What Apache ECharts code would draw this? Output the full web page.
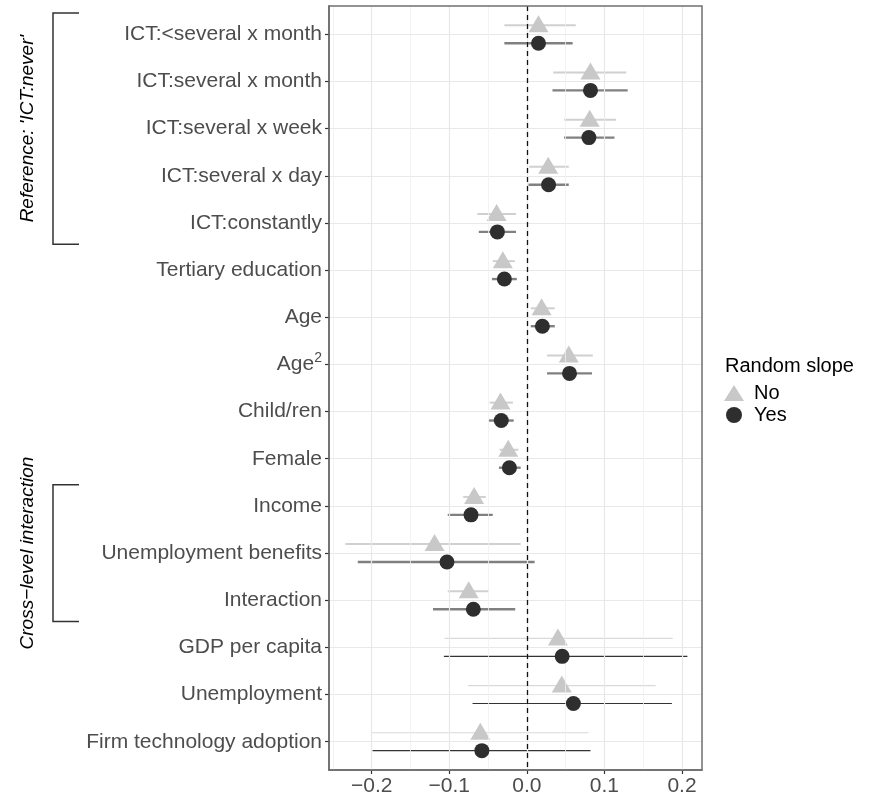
<!DOCTYPE html>
<html><head><meta charset="utf-8">
<script src="https://cdn.jsdelivr.net/npm/echarts@6/dist/echarts.min.js"></script>
<style>html,body{margin:0;padding:0;background:#fff}#c{width:872px;height:797px}</style>
</head><body><div id="c"></div>
<script>
// ---- data ----
const categories = [
  'ICT:<several x month', 'ICT:several x month', 'ICT:several x week', 'ICT:several x day',
  'ICT:constantly', 'Tertiary education', 'Age', 'Age²', 'Child/ren', 'Female',
  'Income', 'Unemployment benefits', 'Interaction', 'GDP per capita', 'Unemployment',
  'Firm technology adoption'
];
// Random slope: No
const noEst = [0.015, 0.082, 0.081, 0.0275, -0.039, -0.031, 0.019, 0.054, -0.034, -0.024, -0.068, -0.119, -0.075, 0.040, 0.045, -0.060];
const noLo  = [-0.029, 0.034, 0.048, 0.003, -0.064, -0.044, 0.005, 0.026, -0.048, -0.035, -0.082, -0.234, -0.102, -0.106, -0.076, -0.200];
const noHi  = [0.063, 0.128, 0.115, 0.054, -0.014, -0.0155, 0.036, 0.085, -0.018, -0.011, -0.053, -0.008, -0.049, 0.188, 0.166, 0.0795];
// Random slope: Yes
const yesEst = [0.015, 0.082, 0.080, 0.028, -0.038, -0.029, 0.020, 0.055, -0.033, -0.0225, -0.072, -0.103, -0.069, 0.0455, 0.060, -0.058];
const yesLo  = [-0.029, 0.033, 0.048, 0.002, -0.062, -0.045, 0.005, 0.026, -0.049, -0.036, -0.102, -0.218, -0.121, -0.107, -0.070, -0.199];
const yesHi  = [0.059, 0.130, 0.113, 0.054, -0.014, -0.013, 0.036, 0.084, -0.017, -0.008, -0.044, 0.010, -0.015, 0.207, 0.187, 0.082];
const xTicks = [-0.2, -0.1, 0.0, 0.1, 0.2];
const xMinorTicks = [-0.25, -0.15, -0.05, 0.05, 0.15];
const seriesNames = ['No', 'Yes'];
const legendTitle = 'Random slope';
const groups = [
  { label: "Reference: 'ICT:never'", from: 0, to: 4 },
  { label: 'Cross\u2212level interaction', from: 10, to: 12 }
];

// ---- chart ----
const FONT = '"Liberation Sans", Arial, sans-serif';
const yIdx = categories.map((_, i) => i);
const DODGE = 0.19;
const countryLevel = i => i >= 13;

function ciSeries(name, lo, hi, off, styleFn) {
  return {
    type: 'custom', name: name, silent: true, z: 3,
    data: lo.map((l, i) => [l, hi[i], i]),
    encode: { x: [0, 1], y: 2 },
    renderItem: function (params, api) {
      const i = api.value(2);
      const p1 = api.coord([api.value(0), i + off]);
      const p2 = api.coord([api.value(1), i + off]);
      const s = styleFn(i);
      return { type: 'line', shape: { x1: p1[0], y1: p1[1], x2: p2[0], y2: p2[1] },
        style: { stroke: s.color, lineWidth: s.width } };
    }
  };
}

const chart = echarts.init(document.getElementById('c'), null, { renderer: 'canvas' });
const option = {
  animation: false,
  backgroundColor: '#fff',
  textStyle: { fontFamily: FONT },
  grid: { left: 329, right: 170, top: 6, bottom: 25, show: true, borderColor: '#707070', borderWidth: 1.5, backgroundColor: 'transparent', z: 6 },
  title: { text: legendTitle, left: 725, top: 356, padding: 0, textStyle: { fontFamily: FONT, fontSize: 20, fontWeight: 'normal', color: '#000' } },
  legend: {
    data: seriesNames, orient: 'vertical', left: 724, top: 383, padding: 0, itemWidth: 20, itemHeight: 16, itemGap: 2,
    selectedMode: false,
    textStyle: { fontFamily: FONT, fontSize: 20, color: '#000', lineHeight: 20, padding: [0, 0, 0, 5] }
  },
  xAxis: {
    type: 'value', min: -0.2551, max: 0.2258,
    axisLine: { show: true, onZero: false, lineStyle: { color: '#555', width: 1.5 } },
    axisTick: { show: true, customValues: xTicks, length: 4, lineStyle: { color: '#333', width: 1.2 } },
    axisLabel: { customValues: xTicks, fontFamily: FONT, fontSize: 21, color: '#4d4d4d', margin: 6,
      formatter: v => (Math.abs(v) < 1e-9 ? '0.0' : (v < 0 ? '\u2212' : '') + Math.abs(v).toFixed(1)) },
    splitLine: { show: false }
  },
  yAxis: {
    type: 'value', min: -0.6, max: 15.6, inverse: true,
    axisLine: { show: true, onZero: false, lineStyle: { color: '#555', width: 1.5 } },
    axisTick: { show: true, customValues: yIdx, length: 4, lineStyle: { color: '#333', width: 1.2 } },
    axisLabel: { customValues: yIdx, fontFamily: FONT, fontSize: 21, color: '#4d4d4d', margin: 7,
      formatter: v => { const s = categories[Math.round(v)] || ''; return s.replace('²', '{sup|2}'); },
      rich: { sup: { fontFamily: FONT, fontSize: 14, color: '#4d4d4d', padding: [0, 0, 12, 0] } } },
    splitLine: { show: true, lineStyle: { color: '#e8e8e8', width: 1.2 } }
  },
  series: [
    {
      type: 'scatter', name: 'refLines', data: [], silent: true, z: 1,
      markLine: {
        silent: true, symbol: 'none', label: { show: false }, animation: false,
        data: xTicks.map(v => ({ xAxis: v, lineStyle: { color: '#e8e8e8', width: 1.2, type: 'solid' } }))
          .concat(xMinorTicks.map(v => ({ xAxis: v, lineStyle: { color: '#f0f0f0', width: 0.8, type: 'solid' } })))
          .concat([{ xAxis: 0, lineStyle: { color: '#111', width: 1.3, type: [5, 4] } }])
      }
    },
    ciSeries('noCI', noLo, noHi, -DODGE, i => countryLevel(i) ? { color: '#d9d9d9', width: 1.2 } : { color: '#d0d0d0', width: 2 }),
    ciSeries('yesCI', yesLo, yesHi, DODGE, i => countryLevel(i) ? { color: '#333', width: 1.2 } : { color: '#808080', width: 2.4 }),
    {
      type: 'scatter', name: seriesNames[0], z: 4,
      symbol: 'triangle', symbolSize: [20, 17], symbolOffset: [0, -1.5],
      itemStyle: { color: '#c8c8c8', opacity: 1 },
      data: noEst.map((v, i) => [v, i - DODGE])
    },
    {
      type: 'scatter', name: seriesNames[1], z: 5,
      symbol: 'circle', symbolSize: 15,
      itemStyle: { color: '#2e2e2e', opacity: 1 },
      data: yesEst.map((v, i) => [v, i + DODGE])
    }
  ]
};
chart.setOption(option);

// bracket annotations positioned through the axis scale
const BR_X = 53, BR_END = 79;
const gfx = [];
groups.forEach(g => {
  const yTop = chart.convertToPixel({ yAxisIndex: 0 }, g.from - 0.45);
  const yBot = chart.convertToPixel({ yAxisIndex: 0 }, g.to + 0.45);
  gfx.push({ type: 'polyline', silent: true, shape: { points: [[BR_END, yTop], [BR_X, yTop], [BR_X, yBot], [BR_END, yBot]] },
    style: { stroke: '#333', lineWidth: 1.5, fill: null } });
  gfx.push({ type: 'text', silent: true, x: 28, y: (yTop + yBot) / 2, rotation: Math.PI / 2,
    style: { text: g.label, fontFamily: FONT, fontSize: 19, fontStyle: 'italic', fill: '#000', align: 'center', verticalAlign: 'middle' } });
});
chart.setOption({ graphic: { elements: gfx } });
</script></body></html>
